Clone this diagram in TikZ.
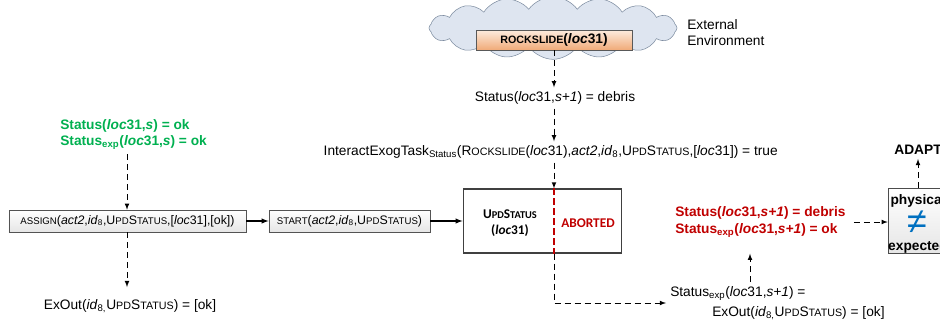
\documentclass[tikz,border=0pt]{standalone}
\usepackage{fontspec}
\setmainfont[Scale=1.03]{Liberation Sans}
\newfontfamily\calfont{Carlito}
\usetikzlibrary{arrows,shapes.symbols}

\definecolor{okgreen}{RGB}{0,176,80}
\definecolor{errred}{RGB}{192,0,0}
\definecolor{neqblue}{RGB}{0,112,192}
\definecolor{cloudfill}{RGB}{222,229,240}
\definecolor{cloudline}{RGB}{125,140,160}
\definecolor{rocktop}{RGB}{253,236,222}
\definecolor{rockbot}{RGB}{240,170,120}

\makeatletter
\newcommand{\sm}[1]{{\fontsize{\strip@pt\dimexpr0.78\dimexpr\f@size pt\relax\relax}{\f@baselineskip}\selectfont #1}}
\makeatother
\newcommand{\loc}{\textit{loc}31}
\newcommand{\upd}{U\sm{PD}S\sm{TATUS}}

\begin{document}
\begin{tikzpicture}[x=0.75pt,y=-0.75pt,>=latex]
\tikzstyle{box} = [rectangle, draw=gray!65!black, top color=white, bottom color=gray!20,
minimum height=16.5pt, inner sep=0pt, font=\fontsize{9}{11}\selectfont]
\tikzstyle{taskbox} = [rectangle, draw=black!75, line width=0.9pt, minimum width=119pt, minimum height=48pt]
\tikzstyle{env} = [cloud, cloud puffs=16, cloud puff arc=110, cloud ignores aspect, draw=cloudline,
fill=cloudfill, minimum width=186pt, minimum height=47pt]
\tikzstyle{txt} = [inner sep=3pt]
\tikzstyle{dline} = [draw, ->, line width=0.6pt, dash pattern=on 4.5pt off 3pt];
\tikzstyle{sline} = [draw, ->, line width=0.8pt];
\useasboundingbox (0,0) rectangle (940,325);

% external environment
\node [env] (cloud) at (553,28) {};
\node [rectangle, draw=gray!70!black, top color=rocktop, bottom color=rockbot,
minimum width=117pt, minimum height=15pt, inner sep=0pt, font=\bfseries] (rock) at (554,40)
{\sm{ROCKSLIDE}(\loc)};
\node [txt, anchor=west, align=left] (extenv) at (683,33) {External\\Environment};

% middle column
\node [txt] (status) at (555,98) {Status(\loc,\textit{s+1}) = debris};
\node [txt, anchor=east] (interact) at (782,152)
{InteractExogTask\textsubscript{Status}(R\sm{OCKSLIDE}(\loc),\textit{act2},\textit{id}\textsubscript{8},\upd,[\loc]) = true};
\node [taskbox] (upd) at (542.5,221) {};
\node [align=center, font=\calfont\bfseries] (updname) at (510,223) {\upd\\(\textit{loc}31)};
\node [text=errred, font=\calfont\bfseries] (aborted) at (588,223) {ABORTED};

% left column
\node [txt, anchor=west, align=left, text=okgreen, font=\bfseries] (green) at (56,135)
{Status(\loc,\textit{s}) = ok\\Status\textsubscript{exp}(\loc,\textit{s}) = ok};
\node [box, minimum width=178pt] (assign) at (127.5,221)
{\sm{ASSIGN}(\textit{act2},\textit{id}\textsubscript{8},\upd,[\loc],[ok])};
\node [box, minimum width=121pt] (start) at (349.5,221)
{\sm{START}(\textit{act2},\textit{id}\textsubscript{8},\upd)};
\node [txt] (exout) at (130,306) {ExOut(\textit{id}\textsubscript{8,}\upd) = [ok]};

% right column
\node [txt, anchor=west, align=left] (statexp) at (666,303)
{Status\textsubscript{exp}(\loc,\textit{s+1}) =\\[3pt]\hspace*{31.5pt}ExOut(\textit{id}\textsubscript{8,}\upd) = [ok]};
\node [txt, anchor=west, align=left, text=errred, font=\bfseries] (red) at (671,222)
{Status(\loc,\textit{s+1}) = debris\\[0.75pt]Status\textsubscript{exp}(\loc,\textit{s+1}) = ok};
\node [box, draw=black!70, minimum width=45pt, minimum height=49pt] (phys) at (918,221) {};
\node [font=\bfseries] (physlbl) at (918,201) {physical};
\node [text=neqblue, inner sep=0pt, font=\fontsize{26}{26}\selectfont] (neq) at (917,222) {≠};
\node [font=\bfseries] (explbl) at (918,247) {expected};
\node [txt, font=\bfseries] (adapt) at (918,150) {ADAPT};

\coordinate (lx) at (127,0);
\coordinate (upx) at (750,0);

\path [dline] (rock.south) -- (status.north -| rock.south);
\path [dline] (status.south -| rock.south) -- (interact.north -| rock.south);
\path [dline] (interact.south -| rock.south) -- (upd.north -| rock.south);
\path [draw, errred, line width=1.3pt, dash pattern=on 5pt off 2.5pt] (upd.north -| rock.south) -- (upd.south -| rock.south);
\path [dline] (upd.south -| rock.south) |- (statexp.west);
\path [dline] (green.south -| lx) -- (assign.north -| lx);
\path [dline, shorten >=6pt] (assign.south -| lx) -- (exout.north -| lx);
\path [sline] (assign) -- (start);
\path [sline] (start) -- (upd);
\path [dline] (statexp.north -| upx) -- ([yshift=-9pt]red.south -| upx);
\path [dline, shorten <=3pt] (red.east) -- (red.east -| phys.west);
\path [dline] (phys.north) -- (adapt.south);

\end{tikzpicture}
\end{document}
